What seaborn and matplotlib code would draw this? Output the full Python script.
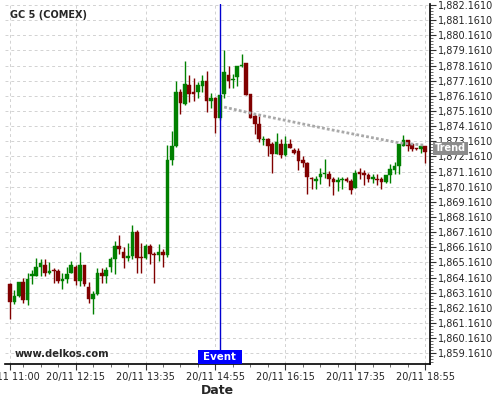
import numpy as np
import pandas as pd
import seaborn as sns
import matplotlib
matplotlib.use("Agg")
import matplotlib.pyplot as plt
from matplotlib.ticker import FixedLocator, FuncFormatter
from matplotlib.patches import Rectangle
import matplotlib.transforms as mtransforms

# 5 minute candles, 20/11 11:00 -> 18:55
opens = [1863.76, 1862.56, 1862.94, 1863.87, 1862.67, 1864.23, 1864.23, 1864.87, 1865.00, 1864.45,
         1864.67, 1864.60, 1863.94, 1864.05, 1864.45, 1864.87, 1863.90, 1865.00, 1863.54, 1862.72,
         1863.10, 1864.49, 1864.27, 1864.83, 1865.38, 1866.27, 1865.83, 1865.43, 1865.60, 1867.16,
         1865.49, 1865.43, 1866.27, 1865.72, 1865.65, 1865.87, 1865.65, 1871.95, 1872.86, 1876.39,
         1875.61, 1876.90, 1876.45, 1876.45, 1876.79, 1877.12, 1875.79, 1876.05, 1874.68, 1876.28,
         1877.56, 1877.21, 1877.39, 1878.12, 1878.34, 1876.27, 1874.84, 1874.29, 1873.27, 1873.29,
         1872.96, 1872.34, 1872.96, 1872.25, 1873.00, 1872.56, 1872.52, 1871.92, 1871.75, 1870.73,
         1870.53, 1870.80, 1870.99, 1871.00, 1870.64, 1870.44, 1870.58, 1870.69, 1870.52, 1870.08,
         1871.14, 1871.09, 1870.92, 1870.70, 1870.70, 1870.65, 1870.47, 1870.92, 1871.25, 1871.51,
         1872.84, 1873.23, 1872.97, 1872.68, 1872.64, 1872.84]
highs = [1863.80, 1863.32, 1863.87, 1864.12, 1864.43, 1864.65, 1865.45, 1865.38, 1865.38, 1865.16,
         1864.78, 1864.71, 1864.43, 1864.83, 1865.23, 1865.00, 1865.83, 1865.00, 1863.89, 1863.27,
         1864.78, 1864.78, 1864.83, 1865.49, 1866.60, 1866.94, 1866.16, 1866.43, 1867.60, 1867.27,
         1866.45, 1866.38, 1866.38, 1865.83, 1866.38, 1866.05, 1872.90, 1873.84, 1877.16, 1876.62,
         1878.49, 1877.52, 1877.34, 1877.10, 1877.52, 1877.78, 1876.34, 1876.10, 1876.19, 1879.20,
         1878.16, 1877.61, 1878.14, 1878.94, 1878.36, 1876.30, 1874.95, 1874.84, 1873.50, 1873.36,
         1873.11, 1873.69, 1873.29, 1873.51, 1873.29, 1872.74, 1872.74, 1872.19, 1871.80, 1870.80,
         1870.86, 1871.37, 1871.97, 1871.20, 1870.80, 1870.82, 1870.78, 1870.80, 1870.69, 1871.25,
         1871.42, 1871.25, 1871.09, 1871.00, 1871.00, 1870.80, 1870.92, 1871.64, 1871.80, 1872.97,
         1873.56, 1873.23, 1872.97, 1872.75, 1872.84, 1872.84]
lows = [1861.45, 1862.43, 1862.88, 1862.50, 1862.34, 1863.72, 1864.23, 1864.27, 1864.27, 1864.38,
        1863.83, 1863.83, 1863.43, 1863.83, 1864.45, 1863.67, 1863.60, 1863.60, 1862.47, 1861.72,
        1862.98, 1863.83, 1863.83, 1864.56, 1864.38, 1865.72, 1864.78, 1865.27, 1865.38, 1864.49,
        1864.49, 1865.38, 1865.05, 1863.83, 1865.27, 1864.87, 1865.50, 1871.62, 1872.80, 1874.95,
        1875.55, 1875.74, 1875.80, 1876.05, 1876.45, 1875.12, 1875.34, 1873.68, 1874.60, 1876.05,
        1876.67, 1876.67, 1876.80, 1878.05, 1876.23, 1874.73, 1873.67, 1873.14, 1872.92, 1872.19,
        1871.08, 1872.30, 1872.03, 1872.20, 1872.70, 1872.34, 1871.24, 1871.46, 1869.65, 1869.98,
        1869.98, 1870.31, 1870.75, 1870.20, 1869.60, 1869.85, 1870.00, 1870.45, 1869.70, 1870.08,
        1870.70, 1870.25, 1870.47, 1870.43, 1870.25, 1870.03, 1870.43, 1870.43, 1871.03, 1871.03,
        1872.84, 1872.53, 1872.53, 1872.58, 1872.42, 1871.73]
closes = [1862.56, 1862.94, 1863.87, 1862.67, 1864.05, 1864.38, 1864.87, 1865.09, 1864.49, 1864.60,
          1864.60, 1863.94, 1864.05, 1864.38, 1865.00, 1863.94, 1865.00, 1863.72, 1862.76, 1863.10,
          1864.49, 1864.27, 1864.65, 1865.38, 1866.27, 1866.05, 1865.43, 1865.60, 1867.16, 1865.43,
          1865.43, 1866.27, 1865.72, 1865.65, 1865.87, 1865.65, 1871.95, 1872.86, 1876.45, 1875.68,
          1876.96, 1876.28, 1876.28, 1876.90, 1877.12, 1875.79, 1876.05, 1874.68, 1876.19, 1877.72,
          1877.16, 1877.30, 1878.12, 1878.16, 1876.23, 1874.73, 1874.29, 1873.34, 1873.33, 1872.85,
          1872.34, 1873.11, 1872.25, 1873.00, 1872.74, 1872.41, 1871.86, 1871.75, 1870.80, 1870.69,
          1870.69, 1870.97, 1871.04, 1870.64, 1870.49, 1870.62, 1870.65, 1870.52, 1869.92, 1871.09,
          1870.98, 1870.92, 1870.65, 1870.76, 1870.63, 1870.47, 1870.92, 1871.31, 1871.51, 1872.97,
          1873.23, 1872.84, 1872.68, 1872.64, 1872.84, 1872.46]

tick_labels = ["20/11 11:00", "20/11 12:15", "20/11 13:35", "20/11 14:55",
               "20/11 16:15", "20/11 17:35", "20/11 18:55"]
tick_pos = [0, 15, 31, 47, 63, 79, 95]

event_idx = 48  # 20/11 15:00

# trend line read at a few candles after the event
trend_idx = [49, 56, 73, 89, 95]
trend_vals = [1875.42, 1874.96, 1873.95, 1873.06, 1872.90]

df = pd.DataFrame({"open": opens, "high": highs, "low": lows, "close": closes})
df["i"] = np.arange(len(df))
df["up"] = df["close"] >= df["open"]

sns.set_style("white")
plt.rcParams["font.family"] = ["DejaVu Sans"]

fig = plt.figure(figsize=(5, 4), dpi=100)
ax = fig.add_axes([0.01, 0.09, 0.85, 0.90])

green = "#008000"
red = "#800000"
cols = np.where(df["up"], green, red)

# grid
for p in tick_pos:
    ax.axvline(p, color="#d2d2d2", lw=0.7, ls=(0, (3, 3)), zorder=0)
for yv in np.arange(1859.161, 1882.2, 1.0):
    ax.axhline(yv, color="#d2d2d2", lw=0.7, ls=(0, (3, 3)), zorder=0)

# candles
ax.vlines(df["i"], df["low"], df["high"], colors=cols, lw=1, zorder=2)
body_lo = np.minimum(df["open"], df["close"])
body_h = np.maximum(np.abs(df["close"] - df["open"]), 0.07)
ax.bar(df["i"], body_h, bottom=body_lo, width=0.82, color=cols, edgecolor=cols,
       linewidth=0.3, zorder=3)

# trend
sns.lineplot(x=trend_idx, y=trend_vals, ax=ax, color="#a8a8a8", lw=2,
             ls=(0, (1, 0.8)), zorder=4)

# event line
ax.axvline(event_idx, color="#0000d0", lw=1, zorder=5)

ax.set_xlim(-1.15, 96.1)
ax.set_ylim(1858.45, 1882.23)

ax.xaxis.set_major_locator(FixedLocator(tick_pos))
ax.set_xticklabels(tick_labels)
ax.xaxis.set_minor_locator(FixedLocator([k for k in range(3, 96, 4) if k not in tick_pos]))

ax.yaxis.tick_right()
ax.yaxis.set_major_locator(FixedLocator(np.arange(1859.161, 1882.2, 1.0)))
ax.yaxis.set_major_formatter(FuncFormatter(lambda v, p: "{:,.4f}".format(v)))
ax.yaxis.set_minor_locator(FixedLocator(np.arange(1858.561, 1882.2, 0.2)))

ax.tick_params(axis="both", which="major", length=4, width=0.8, labelsize=7,
               color="#333333", direction="out", pad=1.5)
ax.tick_params(axis="both", which="minor", length=2, width=0.6, color="#555555",
               direction="out")
ax.tick_params(axis="y", which="both", left=False, right=True)
ax.tick_params(axis="x", which="both", bottom=True, top=False)

for s in ["left", "top"]:
    ax.spines[s].set_visible(False)
for s in ["bottom", "right"]:
    ax.spines[s].set_color("black")
    ax.spines[s].set_linewidth(1.2)

ax.set_xlabel("Date", fontsize=9, fontweight="bold", labelpad=2)
ax.set_ylabel("")

ax.text(0.012, 0.969, "GC 5 (COMEX)", transform=ax.transAxes, fontsize=7,
        fontweight="bold", ha="left", va="center")
ax.text(0.0235, 0.028, "www.delkos.com", transform=ax.transAxes, fontsize=7.2,
        fontweight="bold", ha="left", va="center")

# event box at bottom
blend = mtransforms.blended_transform_factory(ax.transData, ax.transAxes)
ax.add_patch(Rectangle((event_idx - 5.1, 0.0), 10.1, 0.039, transform=blend,
                       facecolor="#0000ff", edgecolor="none", zorder=6, clip_on=False))
ax.text(event_idx, 0.0195, "Event", transform=blend, color="white", fontsize=7.4,
        fontweight="bold", ha="center", va="center", zorder=7)

# trend label on the right axis
blend2 = mtransforms.blended_transform_factory(ax.transAxes, ax.transData)
ax.text(1.012, trend_vals[-1] - 0.2, "Trend", transform=blend2, color="white",
        fontsize=7, fontweight="bold", ha="left", va="center", zorder=8, clip_on=False,
        bbox=dict(boxstyle="square,pad=0.18", facecolor="#8c8c8c", edgecolor="none"))

fig.savefig("out.png", dpi=100)
